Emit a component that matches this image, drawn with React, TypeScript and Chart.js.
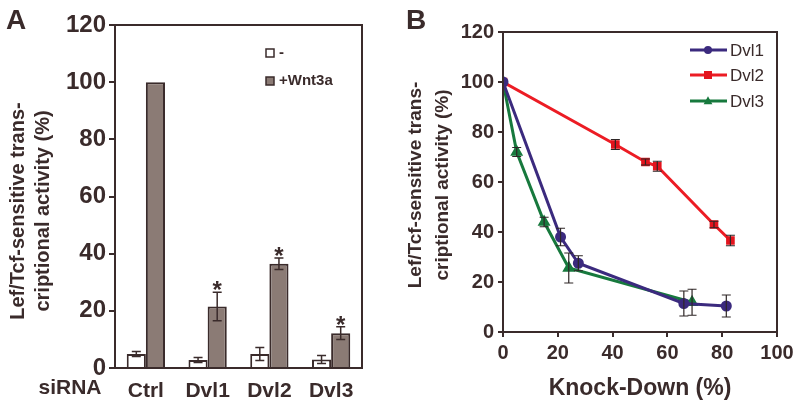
import React, { useEffect, useRef } from 'react';
import { Chart, registerables } from 'chart.js';

Chart.register(...registerables);

const FONT = "'Liberation Sans', Arial, Helvetica, sans-serif";
const INK = '#3a2b2b';
const BAR_GREY = '#8b7b75';

// ---------- Panel A data ----------
const categoriesA = ['Ctrl', 'Dvl1', 'Dvl2', 'Dvl3'];
const minusValues = [4.9, 2.8, 4.9, 3.0];
const minusErrors = [0.9, 0.9, 2.3, 1.4];
const wntValues = [100, 21.5, 36.5, 12.2];
const wntErrors = [0, 5, 2, 2.2];
const wntSignificant = [false, true, true, true];
const seriesNamesA = ['-', '+Wnt3a'];
const xPrefixLabelA = 'siRNA';

// ---------- Panel B data ----------
const dvl1X = [0, 21, 27.5, 66, 81.5];
const dvl1Y = [100, 38, 27.5, 11.4, 10.4];
const dvl1Err = [0, 3.5, 3, 5, 4.4];
const dvl2X = [0, 41, 52, 56.3, 77, 83];
const dvl2Y = [100, 75, 68, 66.3, 43, 36.6];
const dvl2Err = [0, 2, 1.2, 2, 1.3, 2.1];
const dvl3X = [0, 5, 15, 24, 69];
const dvl3Y = [100, 72, 44, 25.6, 11.9];
const dvl3Err = [0, 1.8, 1.9, 6, 5.2];
const seriesNamesB = ['Dvl1', 'Dvl2', 'Dvl3'];
const xTitleB = 'Knock-Down (%)';

// ---------- shared ----------
const yTitleLines = ['Lef/Tcf-sensitive trans-', 'criptional activity (%)'];
const yMin = 0;
const yMax = 120;
const yStep = 20;
const xMinB = 0;
const xMaxB = 100;
const xStepB = 20;

function drawMarker(ctx: CanvasRenderingContext2D, style: string, x: number, y: number, r: number) {
  ctx.beginPath();
  if (style === 'rect') {
    ctx.rect(x - r, y - r, 2 * r, 2 * r);
  } else if (style === 'triangle') {
    ctx.moveTo(x, y - r * 1.2);
    ctx.lineTo(x + r * 1.1, y + r * 0.8);
    ctx.lineTo(x - r * 1.1, y + r * 0.8);
    ctx.closePath();
  } else {
    ctx.arc(x, y, r, 0, Math.PI * 2);
  }
  ctx.fill();
}

function makeFramePlugin(id: string) {
  return {
    id,
    afterDraw(chart: any) {
      const { ctx, chartArea } = chart;
      ctx.save();
      ctx.strokeStyle = INK;
      ctx.lineWidth = 2;
      ctx.strokeRect(chartArea.left, chartArea.top, chartArea.right - chartArea.left, chartArea.bottom - chartArea.top);
      ctx.restore();
    },
  };
}

function makeYTitlePlugin(id: string, lineXs: number[], centerY: number, size: number) {
  return {
    id,
    afterDraw(chart: any) {
      const ctx = chart.ctx;
      ctx.save();
      ctx.fillStyle = INK;
      ctx.font = `bold ${size}px ${FONT}`;
      ctx.textAlign = 'center';
      ctx.textBaseline = 'middle';
      yTitleLines.forEach((line, i) => {
        ctx.save();
        ctx.translate(lineXs[i], centerY);
        ctx.rotate(-Math.PI / 2);
        ctx.fillText(line, 0, 0);
        ctx.restore();
      });
      ctx.restore();
    },
  };
}

function makePanelLabelPlugin(id: string, label: string) {
  return {
    id,
    afterDraw(chart: any) {
      const ctx = chart.ctx;
      ctx.save();
      ctx.fillStyle = INK;
      ctx.font = `bold 28px ${FONT}`;
      ctx.textAlign = 'left';
      ctx.textBaseline = 'middle';
      ctx.fillText(label, 6, 21);
      ctx.restore();
    },
  };
}

const errorBarsA = {
  id: 'errorBarsA',
  afterDatasetsDraw(chart: any) {
    const { ctx } = chart;
    const yScale = chart.scales.y;
    const vals = [minusValues, wntValues];
    const errs = [minusErrors, wntErrors];
    ctx.save();
    ctx.strokeStyle = INK;
    ctx.lineWidth = 1.5;
    vals.forEach((arr, di) => {
      const meta = chart.getDatasetMeta(di);
      meta.data.forEach((el: any, i: number) => {
        const e = errs[di][i];
        if (!e) return;
        const top = yScale.getPixelForValue(arr[i] + e);
        const bot = yScale.getPixelForValue(arr[i] - e);
        ctx.beginPath();
        ctx.moveTo(el.x, top);
        ctx.lineTo(el.x, bot);
        ctx.moveTo(el.x - 4.5, top);
        ctx.lineTo(el.x + 4.5, top);
        ctx.moveTo(el.x - 4.5, bot);
        ctx.lineTo(el.x + 4.5, bot);
        ctx.stroke();
      });
    });
    // significance stars
    ctx.fillStyle = INK;
    ctx.font = `bold 24px ${FONT}`;
    ctx.textAlign = 'center';
    ctx.textBaseline = 'alphabetic';
    const meta = chart.getDatasetMeta(1);
    meta.data.forEach((el: any, i: number) => {
      if (!wntSignificant[i]) return;
      const top = yScale.getPixelForValue(wntValues[i] + wntErrors[i]);
      ctx.fillText('*', el.x, top + 6);
    });
    ctx.restore();
  },
};

const legendA = {
  id: 'legendA',
  afterDraw(chart: any) {
    const { ctx, chartArea } = chart;
    const x0 = chartArea.left + 151;
    const ys = [chartArea.top + 28, chartArea.top + 56];
    ctx.save();
    ctx.font = `bold 15px ${FONT}`;
    ctx.textBaseline = 'middle';
    ctx.textAlign = 'left';
    seriesNamesA.forEach((name, i) => {
      const ds = chart.data.datasets[i];
      ctx.fillStyle = ds.backgroundColor;
      ctx.strokeStyle = INK;
      ctx.lineWidth = 1.5;
      ctx.fillRect(x0, ys[i] - 4, 8, 8);
      ctx.strokeRect(x0, ys[i] - 4, 8, 8);
      ctx.fillStyle = INK;
      ctx.fillText(name, x0 + 13, ys[i]);
    });
    ctx.restore();
  },
};

const siRnaLabel = {
  id: 'siRnaLabel',
  afterDraw(chart: any) {
    const { ctx } = chart;
    const xs = chart.scales.x;
    ctx.save();
    ctx.fillStyle = INK;
    ctx.font = `bold 21px ${FONT}`;
    ctx.textAlign = 'center';
    ctx.textBaseline = 'middle';
    ctx.fillText(xPrefixLabelA, 70, xs.top + 20);
    ctx.restore();
  },
};

const errorBarsB = {
  id: 'errorBarsB',
  afterDatasetsDraw(chart: any) {
    const { ctx } = chart;
    const yScale = chart.scales.y;
    const errs = [dvl1Err, dvl2Err, dvl3Err];
    const ysArr = [dvl1Y, dvl2Y, dvl3Y];
    ctx.save();
    ctx.strokeStyle = '#2e2626';
    ctx.lineWidth = 1.2;
    errs.forEach((errArr, di) => {
      const meta = chart.getDatasetMeta(di);
      meta.data.forEach((el: any, i: number) => {
        const e = errArr[i];
        if (!e) return;
        const top = yScale.getPixelForValue(ysArr[di][i] + e);
        const bot = yScale.getPixelForValue(ysArr[di][i] - e);
        ctx.beginPath();
        ctx.moveTo(el.x, top);
        ctx.lineTo(el.x, bot);
        ctx.moveTo(el.x - 4.5, top);
        ctx.lineTo(el.x + 4.5, top);
        ctx.moveTo(el.x - 4.5, bot);
        ctx.lineTo(el.x + 4.5, bot);
        ctx.stroke();
      });
    });
    ctx.restore();
  },
};

const legendB = {
  id: 'legendB',
  afterDraw(chart: any) {
    const { ctx, chartArea } = chart;
    const x0 = chartArea.right - 87;
    const ys = [chartArea.top + 18, chartArea.top + 43, chartArea.top + 69];
    ctx.save();
    ctx.font = `17px ${FONT}`;
    ctx.textBaseline = 'middle';
    ctx.textAlign = 'left';
    seriesNamesB.forEach((name, i) => {
      const ds: any = chart.data.datasets[i];
      ctx.strokeStyle = ds.borderColor;
      ctx.lineWidth = 3;
      ctx.beginPath();
      ctx.moveTo(x0, ys[i]);
      ctx.lineTo(x0 + 37, ys[i]);
      ctx.stroke();
      ctx.fillStyle = ds.pointBackgroundColor;
      drawMarker(ctx, ds.pointStyle, x0 + 18, ys[i], 4);
      ctx.fillStyle = INK;
      ctx.fillText(name, x0 + 40, ys[i] + 1);
    });
    ctx.restore();
  },
};

function PanelA() {
  const ref = useRef<HTMLCanvasElement>(null);
  useEffect(() => {
    if (!ref.current) return;
    const chart = new Chart(ref.current, {
      type: 'bar',
      data: {
        labels: categoriesA,
        datasets: [
          {
            label: seriesNamesA[0],
            data: minusValues,
            backgroundColor: '#ffffff',
            borderColor: INK,
            borderWidth: 2,
            categoryPercentage: 0.62,
            barPercentage: 1,
          },
          {
            label: seriesNamesA[1],
            data: wntValues,
            backgroundColor: BAR_GREY,
            borderColor: INK,
            borderWidth: 2,
            categoryPercentage: 0.62,
            barPercentage: 1,
          },
        ],
      },
      options: {
        animation: false,
        responsive: false,
        layout: { padding: { top: 25, right: 38, left: 0, bottom: 0 } },
        plugins: { legend: { display: false }, tooltip: { enabled: false } },
        scales: {
          x: {
            grid: { display: false },
            border: { display: true, color: INK, width: 2 },
            ticks: { color: INK, font: { family: FONT, size: 21, weight: 'bold' }, padding: 3 },
            afterFit: (s: any) => { s.height = 42; },
          },
          y: {
            min: yMin,
            max: yMax,
            ticks: { stepSize: yStep, color: INK, font: { family: FONT, size: 24, weight: 'bold' }, padding: 3 },
            grid: { drawOnChartArea: false, drawTicks: true, tickLength: 6, color: INK, lineWidth: 2 },
            border: { display: true, color: INK, width: 2 },
            afterFit: (s: any) => { s.width = 115; },
          },
        },
      } as any,
      plugins: [errorBarsA, legendA, siRnaLabel, makeFramePlugin('frameA'), makeYTitlePlugin('yTitleA', [18, 43], 211, 20), makePanelLabelPlugin('labelA', 'A')],
    });
    return () => chart.destroy();
  }, []);
  return <canvas ref={ref} width={400} height={410} style={{ position: 'absolute', left: 0, top: 0, width: 400, height: 410 }} />;
}

function PanelB() {
  const ref = useRef<HTMLCanvasElement>(null);
  useEffect(() => {
    if (!ref.current) return;
    const mk = (xs: number[], ys: number[]) => xs.map((x, i) => ({ x, y: ys[i] }));
    const chart = new Chart(ref.current, {
      type: 'line',
      data: {
        datasets: [
          {
            label: seriesNamesB[0],
            data: mk(dvl1X, dvl1Y),
            borderColor: '#3b2a7e',
            backgroundColor: '#3b2a7e',
            pointBackgroundColor: '#3b2a7e',
            pointBorderColor: '#3b2a7e',
            pointStyle: 'circle',
            pointRadius: 4,
            borderWidth: 3,
          },
          {
            label: seriesNamesB[1],
            data: mk(dvl2X, dvl2Y),
            borderColor: '#ec1c24',
            backgroundColor: '#ec1c24',
            pointBackgroundColor: '#e3141d',
            pointBorderColor: '#e3141d',
            pointStyle: 'rect',
            pointRadius: 4,
            borderWidth: 3,
          },
          {
            label: seriesNamesB[2],
            data: mk(dvl3X, dvl3Y),
            borderColor: '#17793d',
            backgroundColor: '#17793d',
            pointBackgroundColor: '#17793d',
            pointBorderColor: '#17793d',
            pointStyle: 'triangle',
            pointRadius: 4.5,
            borderWidth: 3,
          },
        ],
      },
      options: {
        animation: false,
        responsive: false,
        layout: { padding: { top: 32, right: 23, left: 0, bottom: 0 } },
        plugins: { legend: { display: false }, tooltip: { enabled: false } },
        scales: {
          x: {
            type: 'linear',
            min: xMinB,
            max: xMaxB,
            ticks: { stepSize: xStepB, color: INK, font: { family: FONT, size: 20, weight: 'bold' }, padding: 4 },
            grid: { drawOnChartArea: false, drawTicks: true, tickLength: 5, color: INK, lineWidth: 2 },
            border: { display: true, color: INK, width: 2 },
            title: { display: true, text: xTitleB, color: INK, font: { family: FONT, size: 23, weight: 'bold' }, padding: { top: 0, bottom: 8 } },
            afterFit: (s: any) => { s.height = 78; },
          },
          y: {
            min: yMin,
            max: yMax,
            ticks: { stepSize: yStep, color: INK, font: { family: FONT, size: 20, weight: 'bold' }, padding: 4 },
            grid: { drawOnChartArea: false, drawTicks: true, tickLength: 5, color: INK, lineWidth: 2 },
            border: { display: true, color: INK, width: 2 },
            afterFit: (s: any) => { s.width = 103; },
          },
        },
      } as any,
      plugins: [errorBarsB, legendB, makeFramePlugin('frameB'), makeYTitlePlugin('yTitleB', [16, 43], 185, 19), makePanelLabelPlugin('labelB', 'B')],
    });
    return () => chart.destroy();
  }, []);
  return <canvas ref={ref} width={400} height={410} style={{ position: 'absolute', left: 400, top: 0, width: 400, height: 410 }} />;
}

export default function App() {
  return (
    <div style={{ position: 'fixed', left: 0, top: 0, width: 800, height: 410, background: '#ffffff' }}>
      <PanelA />
      <PanelB />
    </div>
  );
}
